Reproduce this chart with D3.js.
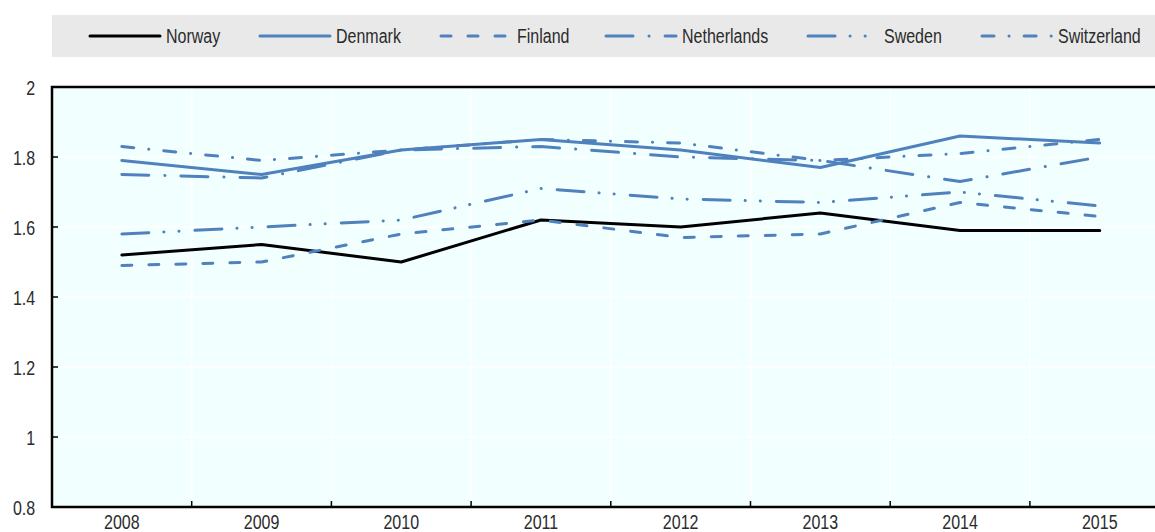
<html>

<head>
  <script src="https://d3js.org/d3.v7.min.js"></script>
  <style>
    body {
      margin: 0;
      background: white;
    }

    text {
      font-family: "Liberation Sans", Arial, sans-serif;
      fill: #2b2b2b;
    }
  </style>
</head>

<body>
  <svg id="chart" height="532" width="1155"></svg>
  <script>
    const years = ["2008", "2009", "2010", "2011", "2012", "2013", "2014", "2015"];
    const countries = ["Norway", "Denmark", "Finland", "Netherlands", "Sweden", "Switzerland"];
    const norway = [1.52, 1.55, 1.50, 1.62, 1.60, 1.64, 1.59, 1.59];
    const denmark = [1.79, 1.75, 1.82, 1.85, 1.82, 1.77, 1.86, 1.84];
    const finland = [1.49, 1.50, 1.58, 1.62, 1.57, 1.58, 1.67, 1.63];
    const netherlands = [1.75, 1.74, 1.82, 1.83, 1.80, 1.79, 1.73, 1.80];
    const sweden = [1.58, 1.60, 1.62, 1.71, 1.68, 1.67, 1.70, 1.66];
    const switzerland = [1.83, 1.79, 1.82, 1.85, 1.84, 1.79, 1.81, 1.85];
    const yTicks = [0.8, 1, 1.2, 1.4, 1.6, 1.8, 2];

    let series = [norway, denmark, finland, netherlands, sweden, switzerland];

    // styling per country
    const blue = "#4f81bd";
    let colors = ["black", blue, blue, blue, blue, blue];
    let dashes = [null, null, "10,17", "27,16,0.1,16", "27,15,0.1,15,0.1,16", "12,15,0.1,15"];

    let svg = d3.select('svg#chart');
    const plotLeft = 52, plotTop = 87, plotBottom = 507;
    const squeeze = 'scale(0.8,1)'; // narrow font look

    let x = d3.scaleBand().domain(years).range([plotLeft, plotLeft + 8 * 139.7]);
    let y = d3.scaleLinear().domain([0.8, 2]).range([plotBottom, plotTop]);
    const plotRight = x.range()[1];

    // legend band
    svg.append('rect')
      .attr('x', plotLeft).attr('y', 15)
      .attr('width', 1155 - plotLeft).attr('height', 42)
      .attr('fill', '#e9e9e9');

    let legendX = [90, 260, 441, 606, 808, 982];
    countries.forEach(function (c, i) {
      svg.append('line')
        .attr('x1', legendX[i]).attr('x2', legendX[i] + 70)
        .attr('y1', 36).attr('y2', 36)
        .attr('stroke', colors[i])
        .attr('stroke-width', 3)
        .attr('stroke-linecap', 'round')
        .attr('stroke-dasharray', dashes[i]);
      svg.append('text')
        .attr('transform', `translate(${legendX[i] + 76},43) ${squeeze}`)
        .attr('font-size', 20)
        .text(c);
    });

    // plot background
    svg.append('rect')
      .attr('x', plotLeft).attr('y', plotTop)
      .attr('width', plotRight - plotLeft).attr('height', plotBottom - plotTop)
      .attr('fill', '#f2ffff');

    // gridlines
    svg.append('g').selectAll('line')
      .data(yTicks)
      .join('line')
      .attr('x1', plotLeft).attr('x2', plotRight)
      .attr('y1', d => y(d)).attr('y2', d => y(d))
      .attr('stroke', 'white').attr('stroke-width', 1.5);
    svg.append('g').selectAll('line')
      .data(years.slice(1))
      .join('line')
      .attr('x1', d => x(d)).attr('x2', d => x(d))
      .attr('y1', plotTop).attr('y2', plotBottom)
      .attr('stroke', 'white').attr('stroke-width', 1.5);

    // axes
    let yAxis = d3.axisLeft(y).tickValues(yTicks).tickSize(0).tickPadding(21)
      .tickFormat(d3.format('~g'));
    svg.append('g')
      .attr('transform', `translate(${plotLeft},0)`)
      .call(yAxis)
      .call(g => g.select('.domain').remove())
      .call(g => g.selectAll('text')
        .attr('font-size', 20).attr('dy', '0.35em').attr('transform', squeeze));

    svg.append('g').selectAll('line')
      .data(yTicks.slice(1, -1))
      .join('line')
      .attr('x1', plotLeft).attr('x2', plotLeft + 6)
      .attr('y1', d => y(d)).attr('y2', d => y(d))
      .attr('stroke', 'black').attr('stroke-width', 1.5);

    let xAxis = d3.axisBottom(x).tickSize(0).tickPadding(8);
    svg.append('g')
      .attr('transform', `translate(0,${plotBottom})`)
      .call(xAxis)
      .call(g => g.select('.domain').remove())
      .call(g => g.selectAll('text')
        .attr('font-size', 20).attr('dy', '0.72em').attr('transform', squeeze));

    svg.append('g').selectAll('line')
      .data(years.slice(1))
      .join('line')
      .attr('x1', d => x(d)).attr('x2', d => x(d))
      .attr('y1', plotBottom - 6).attr('y2', plotBottom)
      .attr('stroke', 'black').attr('stroke-width', 1.5);

    // frame
    svg.append('path')
      .attr('d', `M${plotRight},${plotTop}H${plotLeft}V${plotBottom}H${plotRight}`)
      .attr('fill', 'none')
      .attr('stroke', 'black')
      .attr('stroke-width', 2.5);

    // lines
    let line = d3.line()
      .x((d, i) => x(years[i]) + x.bandwidth() / 2)
      .y(d => y(d));

    svg.append('g').selectAll('path')
      .data(series)
      .join('path')
      .attr('d', d => line(d))
      .attr('fill', 'none')
      .attr('stroke', (d, i) => colors[i])
      .attr('stroke-width', 3)
      .attr('stroke-linecap', 'round')
      .attr('stroke-linejoin', 'round')
      .attr('stroke-dasharray', (d, i) => dashes[i]);
  </script>

</body>

</html>
